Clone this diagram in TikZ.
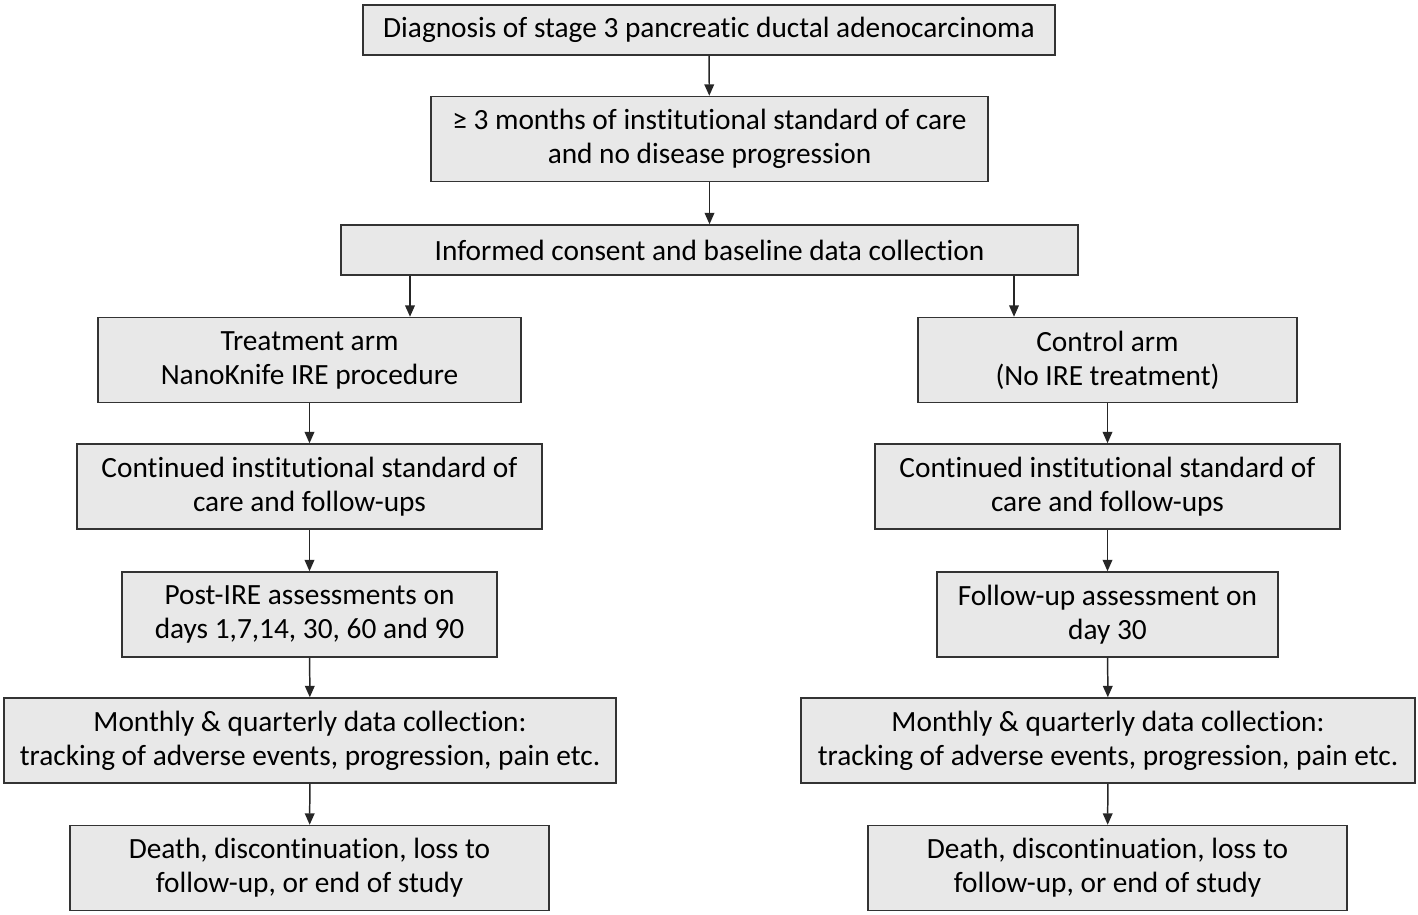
\documentclass[tikz,border=0pt]{standalone}
\usepackage{fontspec}
\setmainfont{Carlito}[Ligatures={NoCommon}]
\usetikzlibrary{arrows.meta, positioning}

\begin{document}
\begin{tikzpicture}[
	x=0.02cm, y=-0.02cm,
	every node/.style={font=\fontsize{16.7}{19.4}\selectfont},
	arrow/.style={-{Triangle[length=6.5pt, width=5.5pt]}, line width=0.85pt, black!85},
	stage/.style={draw=black!80, line width=0.85pt, fill=black!9, rectangle, align=center, inner sep=2pt, minimum height=1.7cm},
	single/.style={stage, minimum height=1cm}
	]
	\useasboundingbox (0,0) rectangle (1418,914);
	
	% === COMMON PATH ===
	\node[single, minimum width=13.84cm] (diagnosis) at (709, 30) {Diagnosis of stage 3 pancreatic ductal adenocarcinoma};
	\node[stage, minimum width=11.14cm] (care) at (709.5, 139) {≥ 3 months of institutional standard of care\\and no disease progression};
	\node[single, minimum width=14.74cm] (consent) at (709.5, 250) {Informed consent and baseline data collection};
	
	\draw[arrow] (diagnosis) -- (care);
	\draw[arrow] (care) -- (consent);
	
	% === TREATMENT ARM ===
	\node[stage, minimum width=8.46cm] (treat) at (309.5, 360) {Treatment arm\\NanoKnife IRE procedure};
	\node[stage, minimum width=9.3cm] (contL) at (309.5, 486.5) {Continued institutional standard of\\care and follow-ups};
	\node[stage, minimum width=7.5cm] (postire) at (309.5, 614.5) {Post-IRE assessments on\\days 1,7,14, 30, 60 and 90};
	\node[stage, minimum width=12.24cm] (monthL) at (310, 740.5) {Monthly \& quarterly data collection:\\tracking of adverse events, progression, pain etc.};
	\node[stage, minimum width=9.58cm] (endL) at (309.5, 868) {Death, discontinuation, loss to\\follow-up, or end of study};
	
	% === CONTROL ARM ===
	\node[stage, minimum width=7.58cm] (control) at (1107.5, 360) {Control arm\\(No IRE treatment)};
	\node[stage, minimum width=9.3cm] (contR) at (1107.5, 486.5) {Continued institutional standard of\\care and follow-ups};
	\node[stage, minimum width=6.82cm] (followup) at (1107.5, 614.5) {Follow-up assessment on\\day 30};
	\node[stage, minimum width=12.28cm] (monthR) at (1108, 740.5) {Monthly \& quarterly data collection:\\tracking of adverse events, progression, pain etc.};
	\node[stage, minimum width=9.58cm] (endR) at (1107.5, 868) {Death, discontinuation, loss to\\follow-up, or end of study};
	
	% split below consent
	\coordinate (splitL) at (410, 250);
	\coordinate (splitR) at (1014, 250);
	\draw[arrow] (splitL |- consent.south) -- (splitL |- treat.north);
	\draw[arrow] (splitR |- consent.south) -- (splitR |- control.north);
	
	\foreach \a/\b in {treat/contL, contL/postire, postire/monthL, monthL/endL,
		control/contR, contR/followup, followup/monthR, monthR/endR} {
		\draw[arrow] (\a) -- (\b);
	}
	
\end{tikzpicture}
\end{document}
